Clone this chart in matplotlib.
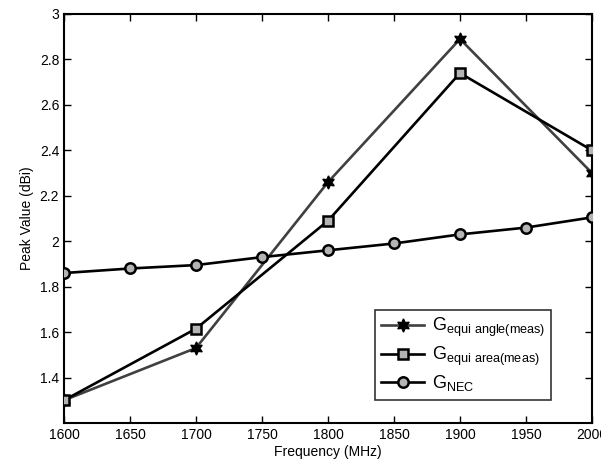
import matplotlib
matplotlib.use("Agg")
import matplotlib.pyplot as plt

freq_meas = [1600, 1700, 1800, 1900, 2000]
equi_angle = [1.30, 1.53, 2.26, 2.89, 2.30]
equi_area = [1.30, 1.615, 2.09, 2.74, 2.40]
freq_nec = [1600, 1650, 1700, 1750, 1800, 1850, 1900, 1950, 2000]
g_nec = [1.86, 1.88, 1.895, 1.93, 1.96, 1.99, 2.03, 2.06, 2.105]
xticks = [1600, 1650, 1700, 1750, 1800, 1850, 1900, 1950, 2000]
yticks = [1.4, 1.6, 1.8, 2.0, 2.2, 2.4, 2.6, 2.8, 3.0]
ytick_labels = ["1.4", "1.6", "1.8", "2", "2.2", "2.4", "2.6", "2.8", "3"]

plt.rcParams['font.family'] = ['Liberation Sans', 'DejaVu Sans']
plt.rcParams['mathtext.fontset'] = 'custom'
plt.rcParams['mathtext.rm'] = 'Liberation Sans'

fig = plt.figure(figsize=(6.01, 4.72), dpi=100)
ax = fig.add_axes([64/601, 1-423/472, (592-64)/601, (423-14)/472])

ax.plot(freq_meas, equi_angle, color='#404040', lw=1.9, marker=(6, 1, 0),
        ms=9.5, mfc='black', mec='black', label=r'G$_{\mathregular{equi\ angle(meas)}}$', zorder=3)
ax.plot(freq_meas, equi_area, color='black', lw=1.9, marker='s',
        ms=7, mfc='#b4b4b4', mec='black', mew=1.8, label=r'G$_{\mathregular{equi\ area(meas)}}$', zorder=3)
ax.plot(freq_nec, g_nec, color='black', lw=1.9, marker='o',
        ms=7.5, mfc='#b4b4b4', mec='black', mew=1.8, label=r'G$_{\mathregular{NEC}}$', zorder=3)

ax.set_xlim(1600, 2000)
ax.set_ylim(1.2, 3.0)
ax.set_xticks(xticks)
ax.set_xticklabels([str(v) for v in xticks])
ax.set_yticks(yticks)
ax.set_yticklabels(ytick_labels)
ax.tick_params(direction='in', length=5, width=1, labelsize=10, top=True, right=True)
for s in ax.spines.values():
    s.set_linewidth(1.5)
ax.set_xlabel('Frequency (MHz)', fontsize=10, labelpad=2)
ax.set_ylabel('Peak Value (dBi)', fontsize=10)

leg = ax.legend(loc='lower right', bbox_to_anchor=(0.94, 0.035), fontsize=13, frameon=True,
                fancybox=False, edgecolor='black', handlelength=2.4, borderpad=0.35,
                labelspacing=0.3, handletextpad=0.4)
leg.get_frame().set_linewidth(1.2)

fig.savefig('out.png', dpi=100)
